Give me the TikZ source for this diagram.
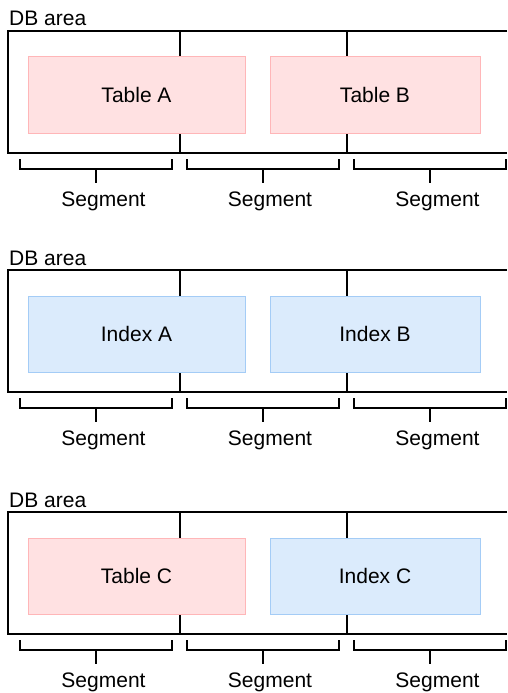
\documentclass[tikz,border=0pt]{standalone}
\usepackage{fontspec}
\setmainfont{Liberation Sans}
\definecolor{tblfill}{RGB}{255,225,226}
\definecolor{tbldraw}{RGB}{255,182,184}
\definecolor{idxfill}{RGB}{219,235,252}
\definecolor{idxdraw}{RGB}{164,204,246}

% One DB area: #1 vertical offset, #2 id, #3/#4 left item style/text, #5/#6 right item style/text
\newcommand\dbpanel[6]{%
  \begin{scope}[shift={(0,#1)}]
    \node[anchor=base west, inner sep=0pt] (area#2) at (9,26) {DB area};
    % area frame, open on the right, and the segment borders
    \draw[frame] (507,31) -- (8,31) -- (8,153) -- (507,153);
    \draw[frame] (180,31) -- (180,153);
    \draw[frame] (347,31) -- (347,153);
    % stored objects
    \node[#3box, minimum width=217pt] (left#2) at (136.5,95) {#4};
    \node[#5box, minimum width=210pt] (right#2) at (375,95) {#6};
    % segment brackets
    \draw[bracket] (20,159) |- (172,169) -- (172,159);
    \draw[bracket] (96,169) -- (96,183);
    \draw[bracket] (187,159) |- (339,169) -- (339,159);
    \draw[bracket] (263,169) -- (263,183);
    \draw[bracket] (354,159) |- (506,169) -- (506,159);
    \draw[bracket] (430,169) -- (430,183);
    \node[anchor=base] (segA#2) at (103.5,206) {Segment};
    \node[anchor=base] (segB#2) at (270,206) {Segment};
    \node[anchor=base] (segC#2) at (437.5,206) {Segment};
  \end{scope}%
}

\begin{document}
\begin{tikzpicture}[x=1pt, y=-1pt,
  font=\fontsize{21}{25}\selectfont,
  frame/.style={draw=black, line width=1.6pt},
  bracket/.style={draw=black, line width=1.6pt},
  itembox/.style={rectangle, line width=1pt, minimum height=76pt, inner sep=0pt},
  tblbox/.style={itembox, fill=tblfill, draw=tbldraw},
  idxbox/.style={itembox, fill=idxfill, draw=idxdraw}]
  \useasboundingbox (0,0) rectangle (507,693);
  \dbpanel{0}{1}{tbl}{Table A}{tbl}{Table B}
  \dbpanel{239}{2}{idx}{Index A}{idx}{Index B}
  \dbpanel{481}{3}{tbl}{Table C}{idx}{Index C}
\end{tikzpicture}
\end{document}
